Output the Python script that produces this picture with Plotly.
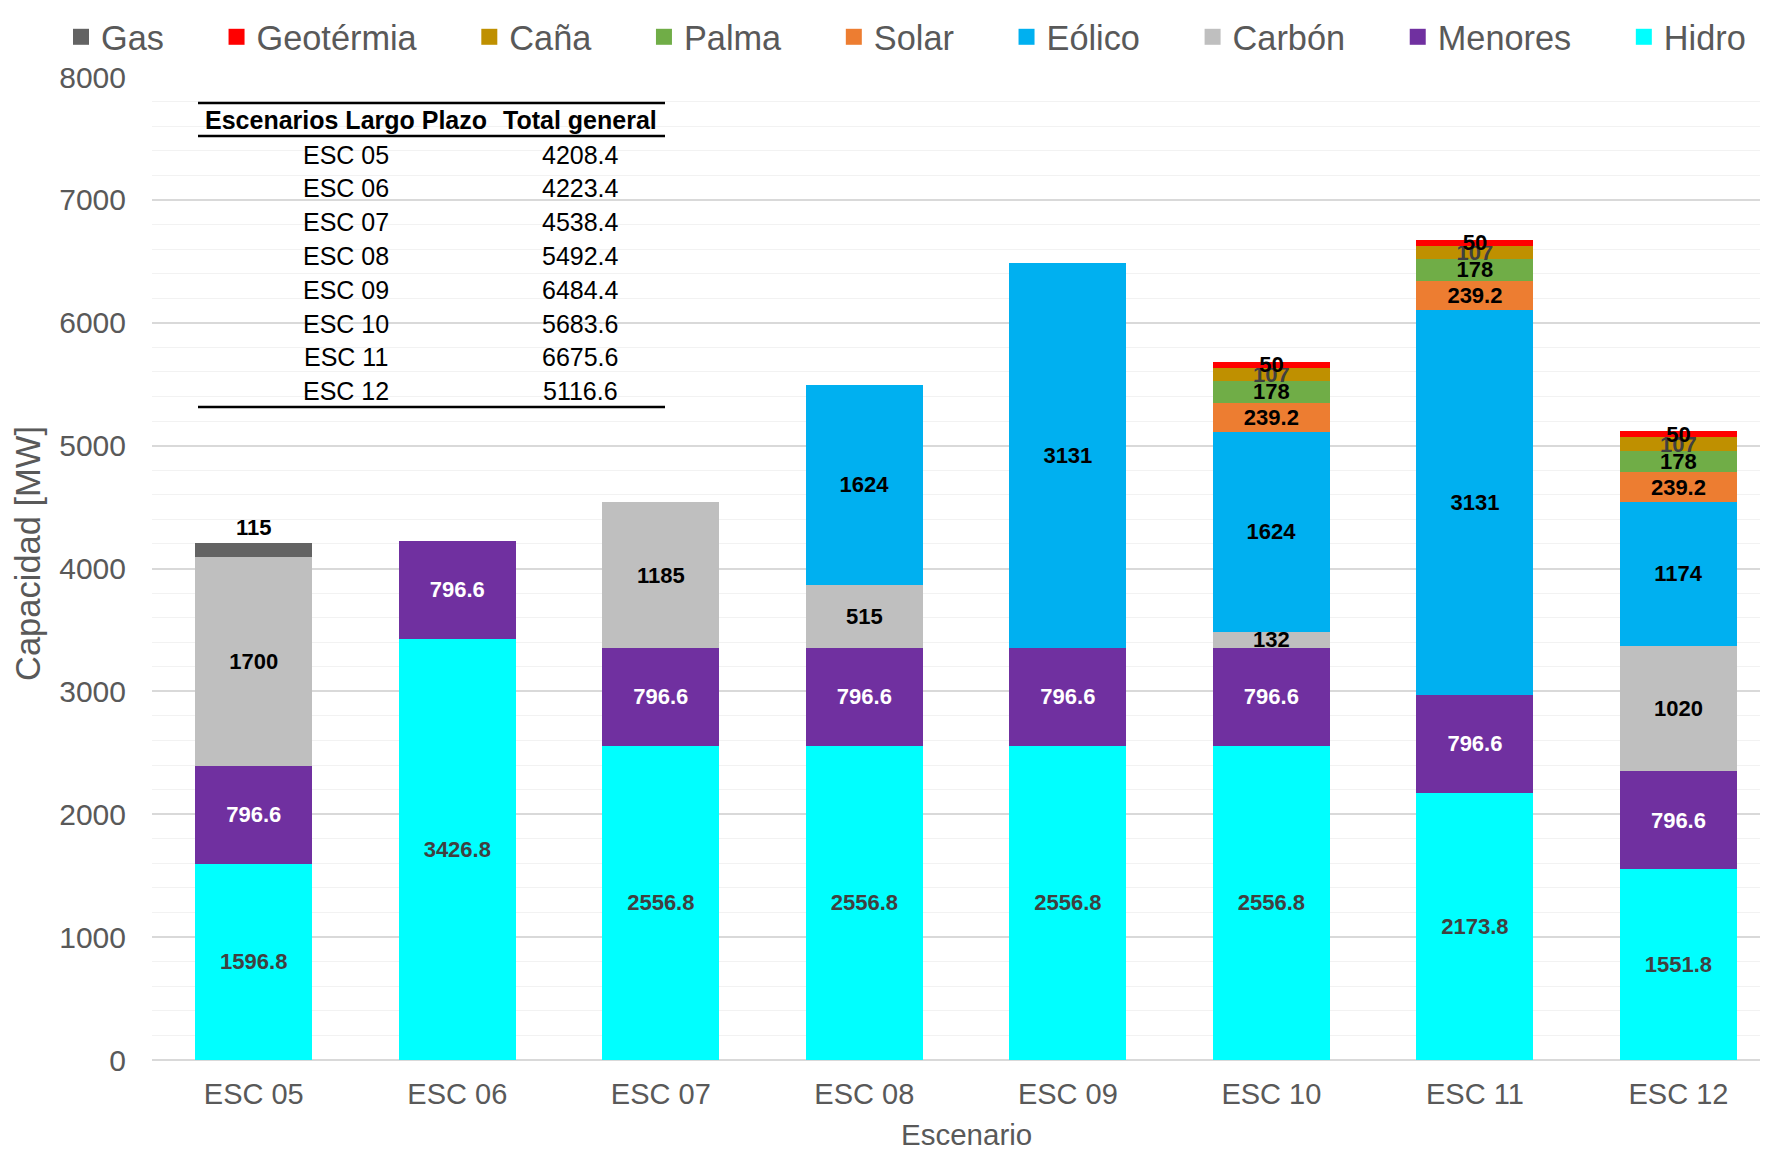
import plotly.graph_objects as go

escenarios = ["ESC 05", "ESC 06", "ESC 07", "ESC 08", "ESC 09", "ESC 10", "ESC 11", "ESC 12"]

# capacidad por tecnologia [MW], de abajo hacia arriba en la pila
hidro = [1596.8, 3426.8, 2556.8, 2556.8, 2556.8, 2556.8, 2173.8, 1551.8]
menores = [796.6, 796.6, 796.6, 796.6, 796.6, 796.6, 796.6, 796.6]
carbon = [1700, 0, 1185, 515, 0, 132, 0, 1020]
eolico = [0, 0, 0, 1624, 3131, 1624, 3131, 1174]
solar = [0, 0, 0, 0, 0, 239.2, 239.2, 239.2]
palma = [0, 0, 0, 0, 0, 178, 178, 178]
cana = [0, 0, 0, 0, 0, 107, 107, 107]
geotermia = [0, 0, 0, 0, 0, 50, 50, 50]
gas = [115, 0, 0, 0, 0, 0, 0, 0]

series = [
    ("Hidro", hidro, "#00FFFF", "#404040", "inside"),
    ("Menores", menores, "#7030A0", "#FFFFFF", "inside"),
    ("Carbón", carbon, "#BFBFBF", "#000000", "inside"),
    ("Eólico", eolico, "#00B0F0", "#000000", "inside"),
    ("Solar", solar, "#ED7D31", "#000000", "inside"),
    ("Palma", palma, "#70AD47", "#000000", "inside"),
    ("Caña", cana, "#BF9000", "#404040", "inside"),
    ("Geotérmia", geotermia, "#FF0000", "#000000", "inside"),
    ("Gas", gas, "#636363", "#000000", "outside"),
]

totals = [sum(v) for v in zip(hidro, menores, carbon, eolico, solar, palma, cana, geotermia, gas)]

# plot area on the page (the page body adds an 8px offset)
OFF = 8
L, T, W, H = 152, 77, 1616, 983
px = lambda x: (x - L) / W
py = lambda y: 1 - (y - T) / H

PAD = "\u00a0" * 5
GREY = "#595959"

fig = go.Figure()
for name, vals, color, tcolor, tpos in series:
    fig.add_trace(go.Bar(
        x=escenarios, y=vals, name=name, legendgroup=name, showlegend=False,
        marker=dict(color=color, line=dict(width=0)),
        text=[("%g" % v) if v else "" for v in vals],
        textposition=tpos, textangle=0, constraintext="none", insidetextanchor="middle",
        textfont=dict(family="Liberation Sans", size=22, color=tcolor, weight="bold"),
        cliponaxis=False,
    ))
# legend entries with bigger square swatches
for name, vals, color, tcolor, tpos in series:
    fig.add_trace(go.Scatter(
        x=[None], y=[None], mode="markers", legendgroup=name,
        name=name if name == "Hidro" else name + PAD,
        marker=dict(symbol="square", size=16, color=color),
    ))

# tabla resumen (Escenarios Largo Plazo / Total general)
fig.add_shape(type="rect", xref="paper", yref="paper", x0=px(198), x1=px(665),
              y0=py(407), y1=py(103), fillcolor="white", line=dict(width=0), layer="between")
for yy in [103, 136, 407]:
    fig.add_shape(type="line", xref="paper", yref="paper", x0=px(198), x1=px(665),
                  y0=py(yy), y1=py(yy), line=dict(color="black", width=2.5), layer="above")

tfont = dict(family="Liberation Sans", size=25, color="black")
cell = dict(xref="paper", yref="paper", xanchor="center", yanchor="middle", showarrow=False, font=tfont)
fig.add_annotation(text="<b>Escenarios Largo Plazo</b>", x=px(346), y=py(120), **cell)
fig.add_annotation(text="<b>Total general</b>", x=px(580), y=py(120), **cell)
for i, (esc, tot) in enumerate(zip(escenarios, totals)):
    yy = py(154.5 + i * 33.8)
    fig.add_annotation(text=esc, x=px(346), y=yy, **cell)
    fig.add_annotation(text="%.1f" % tot, x=px(580), y=yy, **cell)

# axis titles
fig.add_annotation(text="Escenario", x=px(966), y=py(1134), xref="paper", yref="paper",
                   xanchor="center", yanchor="middle", showarrow=False,
                   font=dict(size=29.5, color=GREY))
fig.add_annotation(text="Capacidad [MW]", x=px(28), y=py(554), xref="paper", yref="paper",
                   xanchor="center", yanchor="middle", showarrow=False, textangle=-90,
                   font=dict(size=34.5, color=GREY))

fig.update_layout(
    barmode="stack", bargap=0.425,
    width=1768, height=1153,
    margin=dict(l=L - OFF, r=1768 - L - W + OFF, t=T - OFF, b=1153 - T - H + OFF, autoexpand=False),
    plot_bgcolor="white", paper_bgcolor="white",
    font=dict(family="Liberation Sans", color=GREY),
    legend=dict(orientation="h", traceorder="reversed",
                x=px(61), y=py(37), xanchor="left", yanchor="middle",
                font=dict(size=34.3, color=GREY), bgcolor="rgba(0,0,0,0)"),
    xaxis=dict(range=[-0.5, 7.44], tickfont=dict(size=29, color=GREY),
               ticklabelstandoff=14, showline=False),
    yaxis=dict(range=[0, 8000], dtick=1000, tickfont=dict(size=30, color=GREY),
               gridcolor="#D9D9D9", gridwidth=1.5, zeroline=True, zerolinecolor="#D9D9D9",
               zerolinewidth=2, ticklabelstandoff=25,
               minor=dict(dtick=200, showgrid=True, gridcolor="#F2F2F2", gridwidth=1)),
)

fig.write_html("out.html")
